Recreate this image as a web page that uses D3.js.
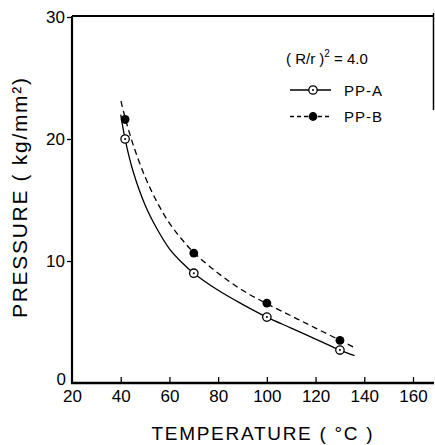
<!DOCTYPE html>
<html>
<head>
<meta charset="utf-8">
<script src="https://cdn.jsdelivr.net/npm/d3@7"></script>
<style>
  html, body { margin: 0; padding: 0; background: #fff; }
  svg { display: block; font-family: "Liberation Sans", Arial, sans-serif; }
</style>
</head>
<body>
<svg id="chart" width="435" height="445"></svg>
<script>
// ---- data ----
const xTicks = [20, 40, 60, 80, 100, 120, 140, 160];
const yTicks = [0, 10, 20, 30];

const tempPoints = [41.8, 70, 100, 130];
const pressureA = [20.0, 9.0, 5.4, 2.7];
const pressureB = [21.6, 10.65, 6.55, 3.5];

// fitted curves as drawn in the figure
const curveTempA = [40, 42, 45, 50, 55, 60, 65, 70, 80, 90, 100, 110, 120, 130, 136];
const curvePressA = [22.0, 19.8, 17.4, 14.6, 12.6, 11.0, 9.9, 9.0, 7.6, 6.45, 5.4, 4.5, 3.6, 2.7, 2.25];
const curveTempB = [40.1, 42, 45, 50, 55, 60, 65, 70, 80, 90, 100, 110, 120, 130, 136];
const curvePressB = [23.1, 21.6, 19.6, 16.9, 14.8, 13.1, 11.8, 10.7, 9.0, 7.6, 6.5, 5.5, 4.5, 3.5, 2.9];

const seriesNames = ["PP-A", "PP-B"];

// ---- drawing ----
const svg = d3.select("#chart");
const x = d3.scaleLinear().domain([20, 160]).range([72, 413]);
const y = d3.scaleLinear().domain([0, 30]).range([383, 17]);

// frame lines
svg.append("line").attr("x1", 72).attr("x2", 434).attr("y1", 16).attr("y2", 16)
  .attr("stroke", "#000").attr("stroke-width", 1.8);
svg.append("line").attr("x1", 433.5).attr("x2", 433.5).attr("y1", 13).attr("y2", 110)
  .attr("stroke", "#000").attr("stroke-width", 1.5);

// x axis
const gx = svg.append("g").attr("transform", `translate(0,${y(0)})`)
  .call(d3.axisBottom(x).tickValues(xTicks).tickSize(-6).tickSizeOuter(0));
gx.select(".domain").remove();
gx.selectAll(".tick line").attr("stroke-width", 1.3);
gx.selectAll(".tick").filter(d => d === 20).select("line").remove();
gx.selectAll("text").attr("font-size", 17).attr("fill", "#000")
  .attr("font-family", "'Liberation Sans', Arial, sans-serif").attr("dy", "0.71em")
  .attr("y", 7);
svg.append("line").attr("x1", 71).attr("x2", 434).attr("y1", y(0)).attr("y2", y(0))
  .attr("stroke", "#000").attr("stroke-width", 2.6);

// y axis
const gy = svg.append("g").attr("transform", `translate(${x(20)},0)`)
  .call(d3.axisLeft(y).tickValues(yTicks).tickSize(5).tickSizeOuter(0).tickPadding(2));
gy.select(".domain").remove();
gy.selectAll(".tick").filter(d => d === 0).select("line").remove();
gy.selectAll(".tick line").attr("stroke-width", 1.3);
gy.selectAll("text").attr("font-size", 17).attr("fill", "#000")
  .attr("font-family", "'Liberation Sans', Arial, sans-serif");
gy.selectAll(".tick").filter(d => d === 0).select("text").attr("x", -6).attr("dy", "0.1em");
svg.append("line").attr("x1", x(20)).attr("x2", x(20)).attr("y1", 16).attr("y2", 384)
  .attr("stroke", "#000").attr("stroke-width", 2.2);

// curves
const line = d3.line().x(d => x(d[0])).y(d => y(d[1])).curve(d3.curveCatmullRom.alpha(0.5));
const curveA = curveTempA.map((t, i) => [t, curvePressA[i]]);
const curveB = curveTempB.map((t, i) => [t, curvePressB[i]]);
svg.append("path").datum(curveA).attr("d", line).attr("fill", "none")
  .attr("stroke", "#000").attr("stroke-width", 1.3);
svg.append("path").datum(curveB).attr("d", line).attr("fill", "none")
  .attr("stroke", "#000").attr("stroke-width", 1.3).attr("stroke-dasharray", "6,4");

// markers
const ptsA = tempPoints.map((t, i) => [t, pressureA[i]]);
const ptsB = tempPoints.map((t, i) => [t, pressureB[i]]);
function openMarker(g, cx, cy) {
  g.append("circle").attr("cx", cx).attr("cy", cy).attr("r", 4.2)
    .attr("fill", "#fff").attr("stroke", "#000").attr("stroke-width", 1.3);
  g.append("circle").attr("cx", cx).attr("cy", cy).attr("r", 1).attr("fill", "#000");
}
const gA = svg.append("g");
ptsA.forEach(d => openMarker(gA, x(d[0]), y(d[1])));
svg.append("g").selectAll("circle").data(ptsB).join("circle")
  .attr("cx", d => x(d[0])).attr("cy", d => y(d[1])).attr("r", 4.4).attr("fill", "#000");

// legend
const lg = svg.append("g").attr("font-size", 15).attr("fill", "#000");
const hdr = lg.append("text").attr("x", 286).attr("y", 64);
hdr.append("tspan").text("( R/r )");
hdr.append("tspan").attr("font-size", 10).attr("dy", -7).text("2");
hdr.append("tspan").attr("dy", 7).text(" = 4.0");

lg.append("line").attr("x1", 290).attr("x2", 331).attr("y1", 90).attr("y2", 90)
  .attr("stroke", "#000").attr("stroke-width", 1.3);
openMarker(lg, 313, 90);
lg.append("text").attr("x", 344).attr("y", 95.5).attr("textLength", 38).text(seriesNames[0]);

lg.append("line").attr("x1", 290).attr("x2", 331).attr("y1", 116.5).attr("y2", 116.5)
  .attr("stroke", "#000").attr("stroke-width", 1.3).attr("stroke-dasharray", "4,3");
lg.append("circle").attr("cx", 313).attr("cy", 116.5).attr("r", 4.4).attr("fill", "#000");
lg.append("text").attr("x", 344).attr("y", 122).attr("textLength", 38).text(seriesNames[1]);

// axis titles
svg.append("text").attr("x", 262).attr("y", 440).attr("text-anchor", "middle")
  .attr("font-size", 19).attr("textLength", 221).attr("fill", "#000")
  .text("TEMPERATURE  ( °C )");
svg.append("text").attr("transform", "translate(27,198) rotate(-90)")
  .attr("text-anchor", "middle").attr("font-size", 21).attr("textLength", 240)
  .attr("fill", "#000").text("PRESSURE  ( kg/mm\u00B2)");
</script>
</body>
</html>
